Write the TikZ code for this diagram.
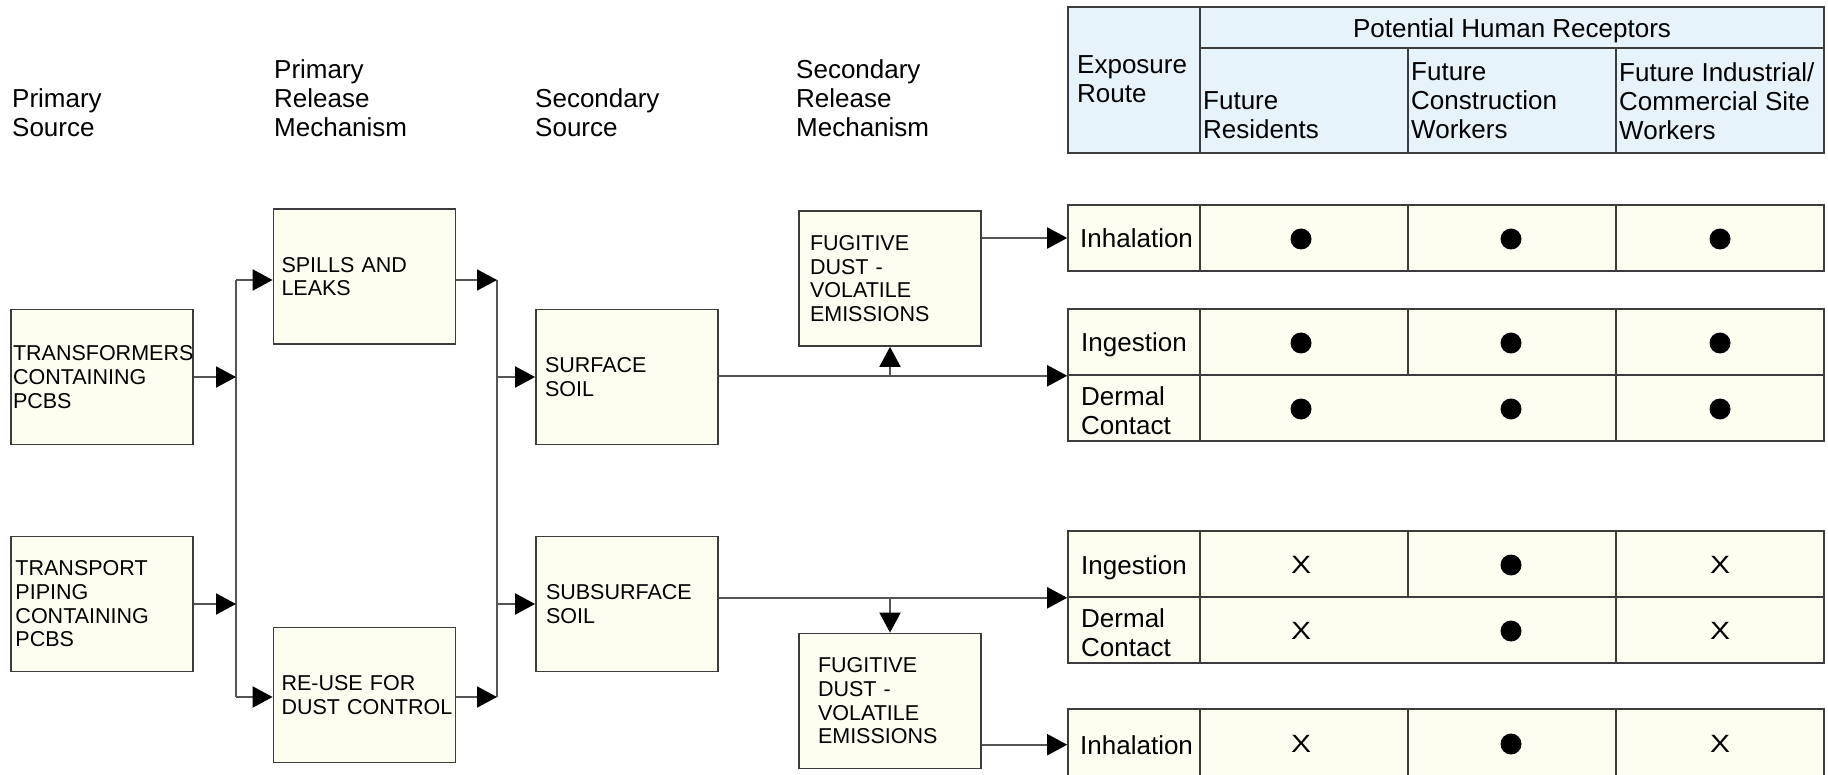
\documentclass[tikz,border=0pt]{standalone}
\usepackage{fontspec}
\usepackage{graphicx}
\setmainfont{Liberation Sans}
\usetikzlibrary{arrows.meta}
\definecolor{boxfill}{HTML}{FEFEF0}
\definecolor{hdrfill}{HTML}{E6F3FB}
\definecolor{boxline}{HTML}{3C3C3C}
\definecolor{conline}{HTML}{555555}
\newcommand{\xmarksym}{\scalebox{1.2}[1]{X}}
\hyphenpenalty=10000
\exhyphenpenalty=10000
\hbadness=10000
\hfuzz=20pt
\begin{document}
\begin{tikzpicture}[x=1pt,y=-1pt,
  bigtext/.style={font=\fontsize{26}{29}\selectfont, inner sep=0pt, align=left},
  boxtext/.style={font=\fontsize{21.5}{23.7}\selectfont},
  srcbox/.style={draw=boxline, fill=boxfill, line width=1.8pt, minimum width=182pt, minimum height=135pt, inner ysep=0pt, align=left, boxtext},
  cell/.style={draw=boxline, fill=boxfill, line width=1.6pt, inner sep=0pt, minimum height=66pt},
  hcell/.style={draw=boxline, fill=hdrfill, line width=1.6pt, inner sep=0pt},
  dotm/.style={circle, fill=black, inner sep=0pt, minimum size=21pt},
  xm/.style={font=\fontsize{25}{25}\selectfont, inner sep=0pt},
  conn/.style={draw=conline, line width=2pt},
  arr/.style={conn, -{Triangle[length=20pt,width=21pt,color=black]}},
]
\useasboundingbox (0,0) rectangle (1828,775);

% column headings
\node[bigtext, anchor=west] (hPS) at (12,113) {Primary\\Source};
\node[bigtext, anchor=west] (hPRM) at (274,98.7) {Primary\\Release\\Mechanism};
\node[bigtext, anchor=west] (hSS) at (535,113) {Secondary\\Source};
\node[bigtext, anchor=west] (hSRM) at (796,98.7) {Secondary\\Release\\Mechanism};

% header table
\node[hcell, minimum width=132pt, minimum height=146pt] (hroute) at (1134,80) {};
\node[hcell, minimum width=624pt, minimum height=41pt] (hpot) at (1512,27.5) {};
\node[hcell, minimum width=208pt, minimum height=105pt] (hres) at (1304,100.5) {};
\node[hcell, minimum width=208pt, minimum height=105pt] (hcon) at (1512,100.5) {};
\node[hcell, minimum width=208pt, minimum height=105pt] (hind) at (1720,100.5) {};
\node[bigtext, anchor=west] (tExp) at (1077,79.5) {Exposure\\Route};
\node[bigtext, anchor=base] (tPot) at (1512,37.3) {Potential Human Receptors};
\node[bigtext, anchor=west] (tRes) at (1203,115.5) {Future\\Residents};
\node[bigtext, anchor=west] (tCon) at (1411,101) {Future\\Construction\\Workers};
\node[bigtext, anchor=west] (tInd) at (1619,101) {Future Industrial/\\Commercial Site\\Workers};

% source boxes
\node[srcbox, inner xsep=2pt, text width=178pt] (trans) at (102,377) {TRANSFORMERS\\CONTAINING\\PCBS};
\node[srcbox, inner xsep=4.5pt, text width=173pt] (pipe) at (102,604) {TRANSPORT\\PIPING\\CONTAINING\\PCBS};
\node[srcbox, inner xsep=8pt, text width=166pt] (spills) at (364.5,276.5) {SPILLS AND\\LEAKS};
\node[srcbox, inner xsep=8pt, text width=166pt] (reuse) at (364.5,695) {RE-USE FOR\\DUST~CONTROL};
\node[srcbox, inner xsep=9pt, text width=164pt] (surf) at (627,377) {SURFACE\\SOIL};
\node[srcbox, inner xsep=10pt, text width=162pt] (subsurf) at (627,604) {SUBSURFACE\\SOIL};
\node[srcbox, inner xsep=11pt, text width=160pt] (fug1) at (890,278.5) {FUGITIVE\\DUST -\\VOLATILE\\EMISSIONS};
\node[srcbox, inner xsep=19pt, text width=144pt] (fug2) at (890,701) {FUGITIVE\\DUST -\\VOLATILE\\EMISSIONS};

% exposure tables
\node[cell, minimum width=132pt] (rA) at (1134,238) {};
\node[cell, minimum width=208pt] (rA1) at (1304,238) {};
\node[cell, minimum width=208pt] (rA2) at (1512,238) {};
\node[cell, minimum width=208pt] (rA3) at (1720,238) {};

\node[cell, minimum width=132pt] (rB) at (1134,342) {};
\node[cell, minimum width=208pt] (rB1) at (1304,342) {};
\node[cell, minimum width=208pt] (rB2) at (1512,342) {};
\node[cell, minimum width=208pt] (rB3) at (1720,342) {};

\node[cell, minimum width=132pt] (rC) at (1134,408) {};
\node[cell, minimum width=416pt] (rC12) at (1408,408) {};
\node[cell, minimum width=208pt] (rC3) at (1720,408) {};

\node[cell, minimum width=132pt] (rD) at (1134,564) {};
\node[cell, minimum width=208pt] (rD1) at (1304,564) {};
\node[cell, minimum width=208pt] (rD2) at (1512,564) {};
\node[cell, minimum width=208pt] (rD3) at (1720,564) {};

\node[cell, minimum width=132pt] (rE) at (1134,630) {};
\node[cell, minimum width=416pt] (rE12) at (1408,630) {};
\node[cell, minimum width=208pt] (rE3) at (1720,630) {};

\node[cell, minimum width=132pt, minimum height=70pt] (rF) at (1134,744) {};
\node[cell, minimum width=208pt, minimum height=70pt] (rF1) at (1304,744) {};
\node[cell, minimum width=208pt, minimum height=70pt] (rF2) at (1512,744) {};
\node[cell, minimum width=208pt, minimum height=70pt] (rF3) at (1720,744) {};

% route labels
\node[bigtext, anchor=base west] (lA) at (1080,248) {Inhalation};
\node[bigtext, anchor=base west] (lB) at (1081,352) {Ingestion};
\node[bigtext, anchor=west] (lC) at (1081,410.5) {Dermal\\Contact};
\node[bigtext, anchor=base west] (lD) at (1081,574) {Ingestion};
\node[bigtext, anchor=west] (lE) at (1081,632.5) {Dermal\\Contact};
\node[bigtext, anchor=base west] (lF) at (1080,754) {Inhalation};

% marks
\node[dotm] (mA1) at (1301,239) {};
\node[dotm] (mA2) at (1511,239) {};
\node[dotm] (mA3) at (1720,239) {};
\node[dotm] (mB1) at (1301,343) {};
\node[dotm] (mB2) at (1511,343) {};
\node[dotm] (mB3) at (1720,343) {};
\node[dotm] (mC1) at (1301,409) {};
\node[dotm] (mC2) at (1511,409) {};
\node[dotm] (mC3) at (1720,409) {};
\node[xm] (mD1) at (1301,565) {\xmarksym};
\node[dotm] (mD2) at (1511,565) {};
\node[xm] (mD3) at (1720,565) {\xmarksym};
\node[xm] (mE1) at (1301,631) {\xmarksym};
\node[dotm] (mE2) at (1511,631) {};
\node[xm] (mE3) at (1720,631) {\xmarksym};
\node[xm] (mF1) at (1301,744) {\xmarksym};
\node[dotm] (mF2) at (1511,744) {};
\node[xm] (mF3) at (1720,744) {\xmarksym};

% connectors, left part
\coordinate (v1t) at (236,280);
\coordinate (v1b) at (236,697);
\coordinate (v2t) at (497,280);
\coordinate (v2b) at (497,697);
\draw[conn] (v1t) -- (v1b);
\draw[conn] (v2t) -- (v2b);
\draw[arr] (trans.east) -- (trans.east -| v1t);
\draw[arr] (pipe.east) -- (pipe.east -| v1t);
\draw[arr] (v1t) -- (v1t -| spills.west);
\draw[arr] (v1b) -- (v1b -| reuse.west);
\draw[arr] (spills.east |- v2t) -- (v2t);
\draw[arr] (reuse.east |- v2b) -- (v2b);
\draw[arr] (v2t |- surf.west) -- (surf.west);
\draw[arr] (v2t |- subsurf.west) -- (subsurf.west);

% connectors, right part
\coordinate (j1) at (fug1.south |- rB.south west);
\coordinate (j2) at (fug2.north |- rD.south west);
\draw[arr] (surf.east |- rB.south west) -- (rB.south west);
\draw[arr] (j1) -- (fug1.south);
\draw[arr] (fug1.east |- rA.west) -- (rA.west);
\draw[arr] (subsurf.east |- rD.south west) -- (rD.south west);
\draw[arr] (j2) -- (fug2.north);
\draw[arr] (fug2.east |- lF.west) -- (lF.west -| rF.west);
\end{tikzpicture}
\end{document}
